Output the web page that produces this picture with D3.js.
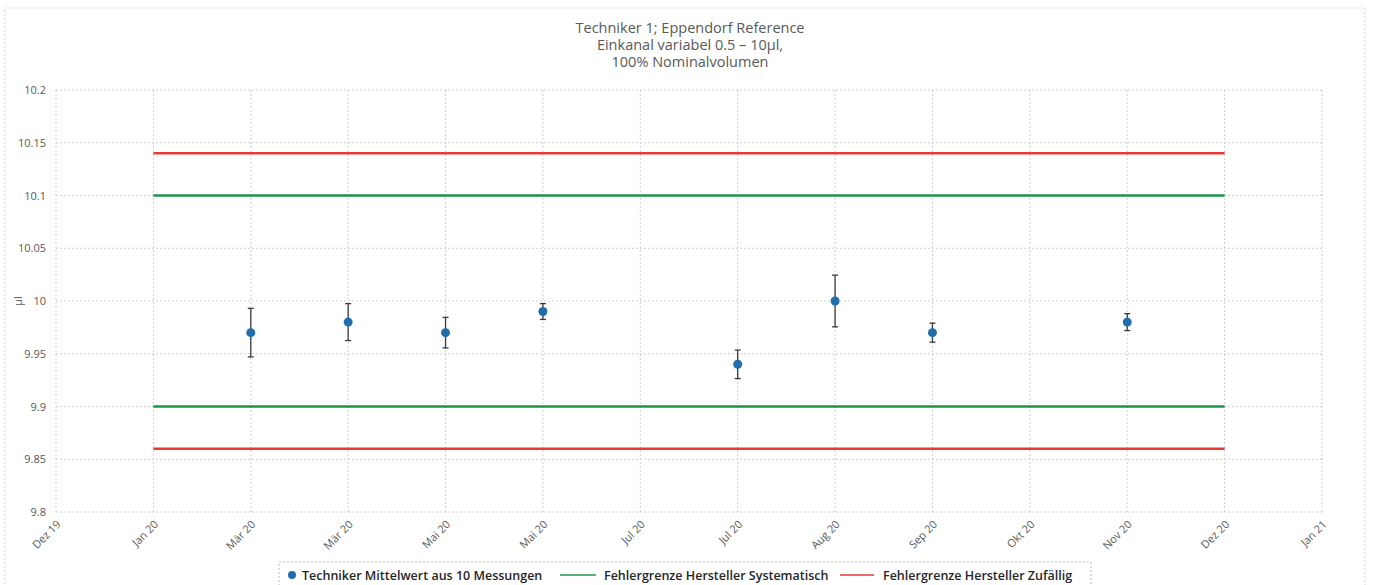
<!DOCTYPE html>
<html lang="de">
<head>
<meta charset="utf-8">
<script src="https://cdnjs.cloudflare.com/ajax/libs/d3/7.8.5/d3.min.js"></script>
<style>
  body { margin: 0; background: #fff; }
  svg text { font-family: "Open Sans", "Noto Sans", sans-serif; fill: #595959; }
</style>
</head>
<body>
<svg id="chart" width="1374" height="585"></svg>
<script>
// Daten
const tickLabels = ["Dez 19", "Jan 20", "Mär 20", "Mär 20", "Mai 20", "Mai 20", "Jul 20",
                    "Jul 20", "Aug 20", "Sep 20", "Okt 20", "Nov 20", "Dez 20", "Jan 21"];
const messIndex = [2, 3, 4, 5, 7, 8, 9, 11];
const mittelwert = [9.97, 9.98, 9.97, 9.99, 9.94, 10.0, 9.97, 9.98];
const fehler = [0.023, 0.0175, 0.0145, 0.0075, 0.0135, 0.0245, 0.009, 0.008];
const grenzeStart = 1, grenzeEnde = 12;
const systematisch = [9.9, 10.1];
const zufaellig = [9.86, 10.14];
const yTicks = [9.8, 9.85, 9.9, 9.95, 10, 10.05, 10.1, 10.15, 10.2];
const titel = ["Techniker 1; Eppendorf Reference", "Einkanal variabel 0.5 – 10µl,", "100% Nominalvolumen"];

const svg = d3.select("#chart");
const pLeft = 56, pRight = 1322, pTop = 90, pBottom = 512;

// outer chart border
svg.append("rect").attr("x", 5).attr("y", 8).attr("width", 1360).attr("height", 590)
  .attr("fill", "none").attr("stroke", "#d6d6d6").attr("stroke-dasharray", "2,2");

const x = d3.scaleLinear().domain([0, tickLabels.length - 1]).range([pLeft, pRight]);
const y = d3.scaleLinear().domain([9.8, 10.2]).range([pBottom, pTop]);

// gridlines
const grid = svg.append("g").attr("stroke", "#cfcfcf").attr("stroke-dasharray", "2,2").attr("fill", "none");
grid.selectAll(".gy").data(yTicks).join("line").attr("class", "gy")
  .attr("x1", pLeft).attr("x2", pRight).attr("y1", d => y(d)).attr("y2", d => y(d));
grid.selectAll(".gx").data(d3.range(tickLabels.length)).join("line").attr("class", "gx")
  .attr("x1", d => x(d)).attr("x2", d => x(d)).attr("y1", pTop).attr("y2", pBottom);

// y axis labels
const yAxis = d3.axisLeft(y).tickValues(yTicks).tickSize(0).tickPadding(10)
  .tickFormat(d => String(+d.toFixed(2)));
const gy = svg.append("g").attr("transform", `translate(${pLeft},0)`).call(yAxis);
gy.select(".domain").remove();
gy.selectAll("text").style("font-size", "11px").style("fill", "#595959");

// x axis labels
const xAxis = d3.axisBottom(x).tickValues(d3.range(tickLabels.length)).tickSize(0)
  .tickFormat(i => tickLabels[i]);
const gx = svg.append("g").attr("transform", `translate(0,${pBottom})`).call(xAxis);
gx.select(".domain").remove();
gx.selectAll("text").style("font-size", "11px").style("fill", "#595959")
  .attr("text-anchor", "end").attr("dy", "0").attr("y", 0)
  .attr("transform", "translate(5,13) rotate(-45)");

// y axis title
svg.append("text").attr("transform", `translate(22,${y(10)}) rotate(-90)`)
  .attr("text-anchor", "middle").style("font-size", "11px").text("µl");

// title
svg.append("g").selectAll("text").data(titel).join("text")
  .attr("x", 690).attr("y", (d, i) => 33 + i * 17)
  .attr("text-anchor", "middle").style("font-size", "14.5px").text(d => d);

// limit lines
const grenzen = [
  { v: zufaellig[0], c: "#e53b35" }, { v: zufaellig[1], c: "#e53b35" },
  { v: systematisch[0], c: "#1e9448" }, { v: systematisch[1], c: "#1e9448" }
];
svg.append("g").selectAll("line").data(grenzen).join("line")
  .attr("x1", x(grenzeStart)).attr("x2", x(grenzeEnde))
  .attr("y1", d => y(d.v)).attr("y2", d => y(d.v))
  .attr("stroke", d => d.c).attr("stroke-width", 2.5);

// error bars + points
const punkte = messIndex.map((xi, i) => ({ xi, m: mittelwert[i], e: fehler[i] }));
const eb = svg.append("g").attr("stroke", "#3a3a3a").attr("stroke-width", 1.3);
eb.selectAll(".v").data(punkte).join("line").attr("class", "v")
  .attr("x1", d => x(d.xi)).attr("x2", d => x(d.xi))
  .attr("y1", d => y(d.m - d.e)).attr("y2", d => y(d.m + d.e));
eb.selectAll(".t").data(punkte).join("line").attr("class", "t")
  .attr("x1", d => x(d.xi) - 3).attr("x2", d => x(d.xi) + 3)
  .attr("y1", d => y(d.m + d.e)).attr("y2", d => y(d.m + d.e));
eb.selectAll(".b").data(punkte).join("line").attr("class", "b")
  .attr("x1", d => x(d.xi) - 3).attr("x2", d => x(d.xi) + 3)
  .attr("y1", d => y(d.m - d.e)).attr("y2", d => y(d.m - d.e));
svg.append("g").selectAll("circle").data(punkte).join("circle")
  .attr("cx", d => x(d.xi)).attr("cy", d => y(d.m)).attr("r", 4.5)
  .attr("fill", "#1f6eae");

// legend
const lg = svg.append("g");
lg.append("rect").attr("x", 279).attr("y", 562).attr("width", 812).attr("height", 40)
  .attr("fill", "#fff").attr("stroke", "#bdbdbd").attr("stroke-dasharray", "2,2");
lg.append("circle").attr("cx", 292).attr("cy", 575).attr("r", 4).attr("fill", "#1f6eae");
const lgText = [
  { x: 302, t: "Techniker Mittelwert aus 10 Messungen" },
  { x: 604, t: "Fehlergrenze Hersteller Systematisch" },
  { x: 883, t: "Fehlergrenze Hersteller Zufällig" }
];
lg.selectAll("text").data(lgText).join("text")
  .attr("x", d => d.x).attr("y", 579.5)
  .style("font-size", "12.5px").style("font-weight", "600").style("fill", "#262626")
  .text(d => d.t);
lg.append("line").attr("x1", 560).attr("x2", 596).attr("y1", 575).attr("y2", 575)
  .attr("stroke", "#1e9448").attr("stroke-width", 1.5);
lg.append("line").attr("x1", 840).attr("x2", 874).attr("y1", 575).attr("y2", 575)
  .attr("stroke", "#e53b35").attr("stroke-width", 1.5);
</script>
</body>
</html>
